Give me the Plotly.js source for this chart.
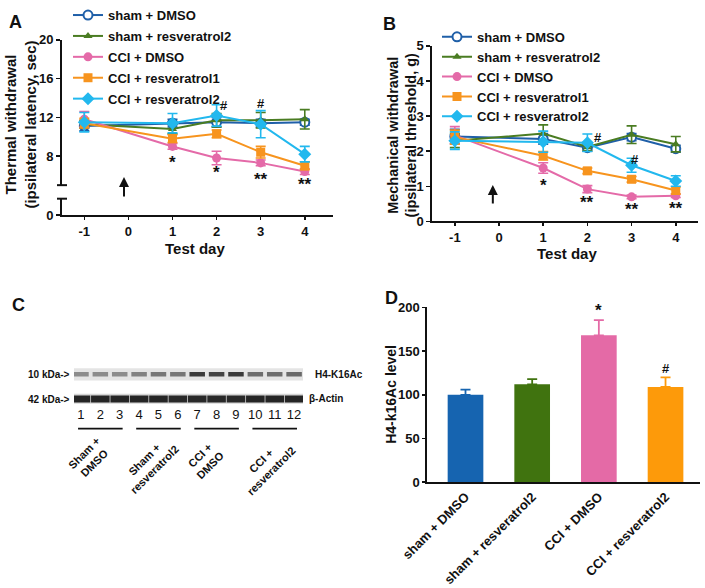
<!DOCTYPE html>
<html><head><meta charset="utf-8">
<script src="https://cdn.plot.ly/plotly-3.0.1.min.js"></script>
<style>html,body{margin:0;padding:0;background:#fff}#chart{width:705px;height:588px}</style>
</head><body><div id="chart"></div>
<script>
// ---------------- DATA ----------------
const testDays = [-1, 1, 2, 3, 4];
const dayTicks = [-1, 0, 1, 2, 3, 4];
const dayTickText = ['-1', '0', '1', '2', '3', '4'];
const seriesNames = ['sham + DMSO', 'sham + resveratrol2', 'CCI + DMSO', 'CCI + resveratrol1', 'CCI + resveratrol2'];

// Panel A: thermal withdrawal latency (sec)
const thermalShamDMSO    = [11.1, 11.4, 11.5, 11.4, 11.5];
const thermalShamDMSOErr = [0.5, 0.4, 0.5, 0.4, 0.3];
const thermalShamRes2    = [11.3, 10.8, 11.7, 11.7, 11.8];
const thermalShamRes2Err = [0.4, 0.5, 0.7, 0.8, 1.0];
const thermalCCIDMSO     = [11.8, 9.0, 7.8, 7.3, 6.4];
const thermalCCIDMSOErr  = [0.8, 0.3, 0.7, 0.3, 0.3];
const thermalCCIRes1     = [11.4, 9.8, 10.3, 8.4, 7.0];
const thermalCCIRes1Err  = [0.5, 0.4, 0.4, 0.6, 0.4];
const thermalCCIRes2     = [11.5, 11.4, 12.2, 11.3, 8.2];
const thermalCCIRes2Err  = [1.0, 1.0, 1.1, 1.4, 0.8];
const thermalTicks = [8, 12, 16, 20];

// Panel B: mechanical withdrawal threshold (g)
const mechShamDMSO    = [2.42, 2.35, 2.10, 2.40, 2.07];
const mechShamDMSOErr = [0.20, 0.15, 0.10, 0.10, 0.10];
const mechShamRes2    = [2.30, 2.50, 2.12, 2.47, 2.20];
const mechShamRes2Err = [0.20, 0.25, 0.10, 0.25, 0.22];
const mechCCIDMSO     = [2.45, 1.52, 0.92, 0.70, 0.73];
const mechCCIDMSOErr  = [0.25, 0.15, 0.10, 0.05, 0.05];
const mechCCIRes1     = [2.40, 1.87, 1.44, 1.20, 0.88];
const mechCCIRes1Err  = [0.20, 0.12, 0.08, 0.08, 0.10];
const mechCCIRes2     = [2.30, 2.27, 2.24, 1.60, 1.15];
const mechCCIRes2Err  = [0.25, 0.30, 0.25, 0.20, 0.15];

// significance marks
const sigADays = [1, 2, 3, 4];         const sigAY = [7.38, 6.26, 5.54, 5.03]; const sigAText = ['*', '*', '**', '**'];
const hashADays = [2.17, 3.0];         const hashAY = [13.2, 13.4];
const sigBDays = [1, 2, 3, 4];         const sigBY = [1.01, 0.535, 0.35, 0.37]; const sigBText = ['*', '**', '**', '**'];
const hashBDays = [2.235, 3.07];       const hashBY = [2.39, 1.75];

// Panel C: western blot lanes
const lanes = [1, 2, 3, 4, 5, 6, 7, 8, 9, 10, 11, 12];
const laneLabels = ['1','2','3','4','5','6','7','8','9','10','11','12'];
const h4Intensity    = [0.45, 0.45, 0.45, 0.50, 0.55, 0.55, 0.85, 0.80, 0.85, 0.60, 0.60, 0.62];
const actinIntensity = [0.95, 0.95, 0.95, 0.95, 0.95, 0.93, 0.93, 0.93, 0.93, 0.95, 0.95, 0.95];
const blotGroups = ['Sham +<br>DMSO', 'Sham +<br>resveratrol2', 'CCI +<br>DMSO', 'CCI +<br>resveratrol2'];
const blotGroupLanes = [[1, 3], [4, 6], [7, 9], [10, 12]];

// Panel D: H4-K16Ac level
const dGroups = ['sham + DMSO', 'sham + resveratrol2', 'CCI + DMSO', 'CCI + resveratrol2'];
const h4Level    = [100, 112, 168, 109];
const h4LevelErr = [6, 6, 17.5, 11];
const dSigGroups = ['CCI + DMSO', 'CCI + resveratrol2'];
const dSigY = [196, 130];
const dSigText = ['*', '#'];

// ---------------- STYLE ----------------
const W = 705, H = 588;
const P = x => x / W;
const Q = y => 1 - y / H;
const FF = 'Liberation Sans, Arial, Helvetica, sans-serif';
const bold = (s, c) => ({family: FF, size: s, color: c || '#111', weight: 'bold'});
const lineColors = ['#1f5fa8', '#4a7c22', '#e46aa8', '#f7941e', '#22b8ee'];
const symbols = ['circle', 'triangle-up', 'circle', 'square', 'diamond'];
const barColors = ['#1664b0', '#40730f', '#e46aa6', '#fd9a0a'];

const thermal = [thermalShamDMSO, thermalShamRes2, thermalCCIDMSO, thermalCCIRes1, thermalCCIRes2];
const thermalErr = [thermalShamDMSOErr, thermalShamRes2Err, thermalCCIDMSOErr, thermalCCIRes1Err, thermalCCIRes2Err];
const mech = [mechShamDMSO, mechShamRes2, mechCCIDMSO, mechCCIRes1, mechCCIRes2];
const mechErr = [mechShamDMSOErr, mechShamRes2Err, mechCCIDMSOErr, mechCCIRes1Err, mechCCIRes2Err];

const traces = [];
function lineTrace(i, ys, errs, xa, ya, leg) {
  const open = i === 0;
  return {
    type: 'scatter', mode: 'lines+markers', x: testDays, y: ys, name: seriesNames[i],
    xaxis: xa, yaxis: ya, legend: leg, legendgroup: leg + i, cliponaxis: false,
    line: {color: lineColors[i], width: 2},
    marker: {symbol: symbols[i], size: i === 4 ? 10 : (i === 1 ? 8 : 9),
             color: open ? '#ffffff' : lineColors[i],
             line: {color: lineColors[i], width: open ? 2 : 0}},
    error_y: {type: 'data', array: errs, color: lineColors[i], thickness: 1.6, width: 5}
  };
}
for (let i = 0; i < 5; i++) traces.push(lineTrace(i, thermal[i], thermalErr[i], 'x', 'y', 'legend'));
for (let i = 0; i < 5; i++) traces.push(lineTrace(i, mech[i], mechErr[i], 'x2', 'y3', 'legend2'));
// empty trace so the lower (broken) segment of panel A's y axis gets its own subplot
traces.push({type: 'scatter', mode: 'markers', x: [null], y: [null], xaxis: 'x', yaxis: 'y2', showlegend: false, hoverinfo: 'skip'});

// Blot bands (rows at fixed layout positions, lane-wise intensities from data)
const H4ROW = 371.7, ACTROW = 396.7, H4H = 4.5, ACTH = 7;
const gray = v => { const g = Math.round(232 - v * 205); return `rgb(${g},${g},${g})`; };
traces.push({type: 'bar', x: lanes, y: lanes.map(() => H4H), base: lanes.map(() => H4ROW - H4H / 2),
  width: 0.8, marker: {color: h4Intensity.map(gray), line: {width: 0}}, xaxis: 'x3', yaxis: 'y4', showlegend: false, hoverinfo: 'skip'});
traces.push({type: 'bar', x: lanes, y: lanes.map(() => ACTH), base: lanes.map(() => ACTROW - ACTH / 2),
  width: 0.96, marker: {color: actinIntensity.map(gray), line: {width: 0}}, xaxis: 'x3', yaxis: 'y4', showlegend: false, hoverinfo: 'skip'});

// Panel D bars
for (let i = 0; i < dGroups.length; i++) {
  traces.push({type: 'bar', x: [dGroups[i]], y: [h4Level[i]], width: 0.535, xaxis: 'x4', yaxis: 'y5', showlegend: false,
    marker: {color: barColors[i], line: {width: 0}},
    error_y: {type: 'data', symmetric: false, array: [h4LevelErr[i]], arrayminus: [0], color: barColors[i], thickness: 1.8, width: 5}});
}

// ---------------- LAYOUT ----------------
const axBase = {showline: true, linewidth: 2, linecolor: '#111', ticks: 'outside', ticklen: 4, tickwidth: 1.6,
  tickcolor: '#111', showgrid: false, zeroline: false, tickfont: bold(13), fixedrange: true};

const annotations = [];
const ann = (o) => annotations.push(Object.assign({showarrow: false, xanchor: 'center', yanchor: 'middle'}, o));
// panel letters
ann({text: 'A', x: P(15), y: Q(15), xref: 'paper', yref: 'paper', font: bold(18)});
ann({text: 'B', x: P(389), y: Q(17), xref: 'paper', yref: 'paper', font: bold(18)});
ann({text: 'C', x: P(18), y: Q(302), xref: 'paper', yref: 'paper', font: bold(18)});
ann({text: 'D', x: P(391), y: Q(295), xref: 'paper', yref: 'paper', font: bold(18)});
// axis titles
ann({text: 'Thermal withdrawal<br>(ipsilateral latency, sec)', textangle: -90, x: P(21), y: Q(119), xref: 'paper', yref: 'paper', font: bold(15)});
ann({text: 'Test day', x: P(195), y: Q(244), xref: 'paper', yref: 'paper', font: bold(15)});
ann({text: 'Mechanical withdrawal<br>(ipsilateral threshold, g)', textangle: -90, x: P(402), y: Q(130), xref: 'paper', yref: 'paper', font: bold(14.5)});
ann({text: 'Test day', x: P(567), y: Q(249), xref: 'paper', yref: 'paper', font: bold(15)});
ann({text: 'H4-k16Ac level', textangle: -90, x: P(391), y: Q(392.5), xref: 'paper', yref: 'paper', font: bold(14)});
// arrows
annotations.push({x: -0.1, y: 5.85, xref: 'x', yref: 'y', ax: 0, ay: 21, showarrow: true, arrowhead: 2, arrowsize: 1, arrowwidth: 2, arrowcolor: '#111', text: ''});
annotations.push({x: -0.14, y: 1.04, xref: 'x2', yref: 'y3', ax: 0, ay: 20, showarrow: true, arrowhead: 2, arrowsize: 1, arrowwidth: 2, arrowcolor: '#111', text: ''});
// significance
sigADays.forEach((d, i) => ann({text: sigAText[i], x: d, y: sigAY[i], xref: 'x', yref: 'y', font: bold(17)}));
hashADays.forEach((d, i) => ann({text: '#', x: d, y: hashAY[i], xref: 'x', yref: 'y', font: bold(13)}));
sigBDays.forEach((d, i) => ann({text: sigBText[i], x: d, y: sigBY[i], xref: 'x2', yref: 'y3', font: bold(17)}));
hashBDays.forEach((d, i) => ann({text: '#', x: d, y: hashBY[i], xref: 'x2', yref: 'y3', font: bold(13)}));
dSigGroups.forEach((g, i) => ann({text: dSigText[i], x: g, y: dSigY[i], xref: 'x4', yref: 'y5', font: bold(dSigText[i] === '*' ? 17 : 13)}));
// blot labels
ann({text: '10 kDa->', x: P(72), y: Q(371.5), xref: 'paper', yref: 'paper', xanchor: 'right', font: bold(10)});
ann({text: '42 kDa->', x: P(72), y: Q(397), xref: 'paper', yref: 'paper', xanchor: 'right', font: bold(10)});
ann({text: 'H4-K16Ac', x: P(313), y: Q(371.5), xref: 'paper', yref: 'paper', xanchor: 'left', font: bold(10)});
ann({text: '\u03b2-Actin', x: P(307), y: Q(396.5), xref: 'paper', yref: 'paper', xanchor: 'left', font: bold(10)});
const groupLabelY = [456, 463, 458, 465];
blotGroups.forEach((g, i) => {
  const mid = (blotGroupLanes[i][0] + blotGroupLanes[i][1]) / 2;
  ann({text: g, x: mid - (i % 2 ? 0.45 : 0.6), y: Q(groupLabelY[i]), xref: 'x3', yref: 'paper', textangle: -45, font: bold(11)});
});

const shapes = [];
// broken-axis caps (panel A)
shapes.push({type: 'line', xref: 'paper', yref: 'paper', x0: P(57), x1: P(67), y0: Q(180.3), y1: Q(180.3), line: {color: '#111', width: 2}});
shapes.push({type: 'line', xref: 'paper', yref: 'paper', x0: P(57), x1: P(67), y0: Q(194), y1: Q(194), line: {color: '#111', width: 2}});
// blot strip backgrounds
shapes.push({type: 'rect', layer: 'below', xref: 'x3 domain', yref: 'y4', x0: 0, x1: 1, y0: 365.5, y1: 378, fillcolor: '#e4e4e4', line: {width: 0}});
shapes.push({type: 'rect', layer: 'below', xref: 'x3 domain', yref: 'y4', x0: 0, x1: 1, y0: 391.5, y1: 401.5, fillcolor: '#d6d6d6', line: {width: 0}});
// group underlines
blotGroupLanes.forEach(([a, b]) => shapes.push({type: 'line', xref: 'x3', yref: 'paper', x0: a - 0.15, x1: b + 0.15, y0: Q(426.7), y1: Q(426.7), line: {color: '#111', width: 1.6}}));

const layout = {
  width: W, height: H, margin: {l: 0, r: 0, t: 0, b: 0}, paper_bgcolor: '#fff', plot_bgcolor: 'rgba(0,0,0,0)',
  font: {family: FF, color: '#111'}, barmode: 'overlay', showlegend: true, hovermode: false,
  xaxis: Object.assign({}, axBase, {domain: [P(62), P(333)], range: [-1.506, 4.64], anchor: 'y2', tickvals: dayTicks, ticktext: dayTickText, ticklen: 3}),
  yaxis: Object.assign({}, axBase, {domain: [Q(180.3), Q(33.3)], range: [5, 20], anchor: 'x', tickvals: thermalTicks}),
  yaxis2: Object.assign({}, axBase, {domain: [Q(210.7), Q(194)], range: [0, 1.7], anchor: 'x', tickvals: [0]}),
  xaxis2: Object.assign({}, axBase, {domain: [P(432.3), P(698.3)], range: [-1.51, 4.51], anchor: 'y3', tickvals: dayTicks, ticktext: dayTickText, ticklen: 3}),
  yaxis3: Object.assign({}, axBase, {domain: [Q(217), Q(39.3)], range: [0, 5], anchor: 'x2', dtick: 1}),
  xaxis3: {domain: [P(74), P(303)], range: [0.64, 12.46], anchor: 'y4', showline: false, ticks: '', showgrid: false, zeroline: false,
           tickvals: lanes, ticktext: laneLabels, tickfont: {family: FF, size: 13, color: '#111'}, fixedrange: true},
  yaxis4: {domain: [Q(403), Q(362)], range: [403, 362], anchor: 'x3', visible: false, fixedrange: true},
  xaxis4: Object.assign({}, axBase, {domain: [P(427.3), P(700)], type: 'category', range: [-0.573, 3.517], anchor: 'y5', ticks: '', tickangle: -45, tickfont: bold(13)}),
  yaxis5: Object.assign({}, axBase, {domain: [Q(481), Q(304)], range: [0, 200], anchor: 'x4', dtick: 50, ticklen: 3}),
  legend: {x: P(68), y: 1 + 7 / H, xanchor: 'left', yanchor: 'top', bgcolor: 'rgba(0,0,0,0)', font: bold(13), tracegroupgap: 1, itemclick: false},
  legend2: {x: P(437), y: Q(15), xanchor: 'left', yanchor: 'top', bgcolor: 'rgba(0,0,0,0)', font: bold(13), tracegroupgap: 0, itemclick: false},
  annotations: annotations, shapes: shapes
};

Plotly.newPlot('chart', traces, layout, {displayModeBar: false, staticPlot: true});
</script></body></html>
